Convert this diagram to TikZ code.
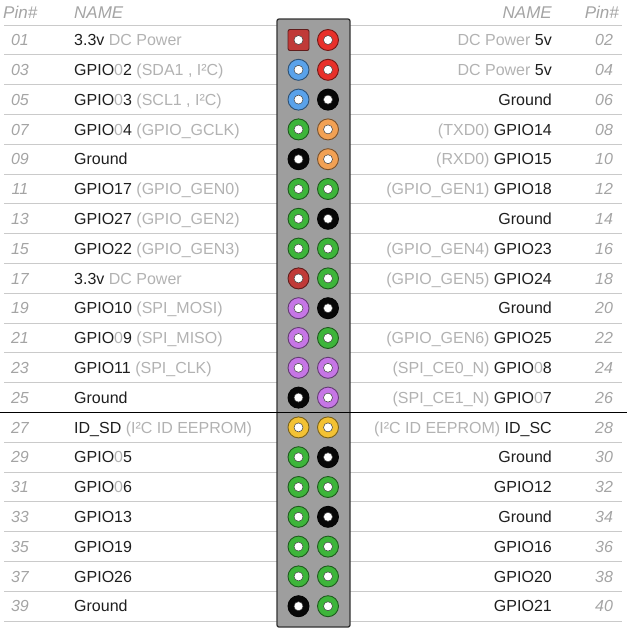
\documentclass[tikz,border=0pt]{standalone}
\usepackage{fontspec}
\setmainfont{Liberation Sans}
\definecolor{dk}{HTML}{1E1E1E}
\definecolor{lt}{HTML}{B2B2B2}
\definecolor{num}{HTML}{A4A4A4}
\definecolor{sep}{HTML}{CACACA}
\definecolor{boxfill}{HTML}{9E9E9E}
\definecolor{cred}{HTML}{E8302A}
\definecolor{cdred}{HTML}{C03A38}
\definecolor{cblue}{HTML}{5AA2EA}
\definecolor{cgreen}{HTML}{3DB53A}
\definecolor{corange}{HTML}{F2A154}
\definecolor{cpurple}{HTML}{C676E6}
\definecolor{cyellow}{HTML}{F3C234}
\definecolor{cblack}{HTML}{080808}
\newcommand\gr[1]{\textcolor{lt}{#1}}
\tikzset{
  txt/.style={font=\fontsize{16}{19}\selectfont, text=dk, inner sep=0pt},
  numtxt/.style={font=\fontsize{16}{19}\selectfont\itshape, text=num, inner sep=0pt},
  headtxt/.style={font=\fontsize{17}{20}\selectfont\itshape, text=num, inner sep=0pt},
  ring/.style={minimum size=21pt, inner sep=0pt, rounded corners=2pt, line width=0.9pt, fill=#1, draw=#1!50!black},
  hole/.style={circle, minimum size=9pt, inner sep=0pt, fill=white, draw=black!75, line width=0.5pt},
  rule/.style={draw=sep, line width=1pt},
}
\begin{document}
\begin{tikzpicture}[x=1pt,y=-1pt]
\useasboundingbox (0,0) rectangle (627,630);
% header
\node[headtxt, anchor=base west] (hpinl) at (3,18.5) {Pin\#};
\node[headtxt, anchor=base west] (hnamel) at (74,18.5) {NAME};
\node[headtxt, anchor=base east] (hnamer) at (552,18.5) {NAME};
\node[headtxt, anchor=base east] (hpinr) at (619,18.5) {Pin\#};
% rules
\foreach \i in {1,...,21}{
  \pgfmathsetmacro\yy{25+29.8*(\i-1)}
  \draw[rule] (4,\yy) -- (277,\yy);
  \draw[rule] (350,\yy) -- (622,\yy);
}
% header box
\draw[fill=boxfill, draw=black!80, line width=1.3pt, rounded corners=2pt] (277,19) rectangle (350,627);
% thick divider
\draw[black, line width=1.6pt] (0,412.5) -- (627,412.5);
% rows
\foreach \i/\lc/\ls/\lname/\rc/\rname in {
 1/cdred/rectangle/{3.3v \gr{DC Power}}/cred/{\gr{DC Power} 5v},
 2/cblue/circle/{GPIO\gr{0}2 \gr{(SDA1 , I²C)}}/cred/{\gr{DC Power} 5v},
 3/cblue/circle/{GPIO\gr{0}3 \gr{(SCL1 , I²C)}}/cblack/{Ground},
 4/cgreen/circle/{GPIO\gr{0}4 \gr{(GPIO\_GCLK)}}/corange/{\gr{(TXD0)} GPIO14},
 5/cblack/circle/{Ground}/corange/{\gr{(RXD0)} GPIO15},
 6/cgreen/circle/{GPIO17 \gr{(GPIO\_GEN0)}}/cgreen/{\gr{(GPIO\_GEN1)} GPIO18},
 7/cgreen/circle/{GPIO27 \gr{(GPIO\_GEN2)}}/cblack/{Ground},
 8/cgreen/circle/{GPIO22 \gr{(GPIO\_GEN3)}}/cgreen/{\gr{(GPIO\_GEN4)} GPIO23},
 9/cdred/circle/{3.3v \gr{DC Power}}/cgreen/{\gr{(GPIO\_GEN5)} GPIO24},
 10/cpurple/circle/{GPIO10 \gr{(SPI\_MOSI)}}/cblack/{Ground},
 11/cpurple/circle/{GPIO\gr{0}9 \gr{(SPI\_MISO)}}/cgreen/{\gr{(GPIO\_GEN6)} GPIO25},
 12/cpurple/circle/{GPIO11 \gr{(SPI\_CLK)}}/cpurple/{\gr{(SPI\_CE0\_N)} GPIO\gr{0}8},
 13/cblack/circle/{Ground}/cpurple/{\gr{(SPI\_CE1\_N)} GPIO\gr{0}7},
 14/cyellow/circle/{ID\_SD \gr{(I²C ID EEPROM)}}/cyellow/{\gr{(I²C ID EEPROM)} ID\_SC},
 15/cgreen/circle/{GPIO\gr{0}5}/cblack/{Ground},
 16/cgreen/circle/{GPIO\gr{0}6}/cgreen/{GPIO12},
 17/cgreen/circle/{GPIO13}/cblack/{Ground},
 18/cgreen/circle/{GPIO19}/cgreen/{GPIO16},
 19/cgreen/circle/{GPIO26}/cgreen/{GPIO20},
 20/cblack/circle/{Ground}/cgreen/{GPIO21}}{
  \pgfmathsetmacro\y{40+29.8*(\i-1)}
  \pgfmathsetmacro\yb{\y+5.7}
  \pgfmathtruncatemacro\ln{2*\i-1}
  \pgfmathtruncatemacro\rn{2*\i}
  \node[numtxt, anchor=base] (nl\i) at (20,\yb) {\ifnum\ln<10 0\fi\ln};
  \node[numtxt, anchor=base] (nr\i) at (604,\yb) {\ifnum\rn<10 0\fi\rn};
  \node[txt, anchor=base west] (tl\i) at (74,\yb) {\lname};
  \node[txt, anchor=base east] (tr\i) at (552,\yb) {\rname};
  \node[ring=\lc, shape=\ls] (pl\i) at (298.5,\y) {};
  \node[hole] (hl\i) at (pl\i) {};
  \node[ring=\rc, shape=circle] (pr\i) at (328,\y) {};
  \node[hole] (hr\i) at (pr\i) {};
}
\end{tikzpicture}
\end{document}
